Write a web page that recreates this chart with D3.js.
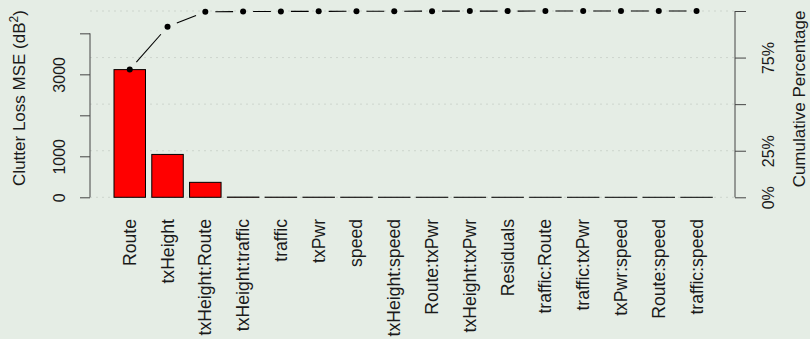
<!DOCTYPE html>
<html>
<head>
<meta charset="utf-8">
<script src="https://cdn.jsdelivr.net/npm/d3@7"></script>
<style>
  html, body { margin: 0; padding: 0; background: #e5ede5; }
  svg { display: block; }
  text { font-family: "Liberation Sans", Arial, sans-serif; fill: #1a1a1a; }
</style>
</head>
<body>
<svg id="chart" width="810" height="339"></svg>
<script>
// ---- data ----
const categories = ["Route", "txHeight", "txHeight:Route", "txHeight:traffic", "traffic", "txPwr",
  "speed", "txHeight:speed", "Route:txPwr", "txHeight:txPwr", "Residuals", "traffic:Route",
  "traffic:txPwr", "txPwr:speed", "Route:speed", "traffic:speed"];
const mseValues = [3115, 1046, 365, 5, 3, 2.5, 2, 1.5, 1.2, 1, 0.8, 0.6, 0.5, 0.4, 0.3, 0.2];
const leftTicks = [0, 1000, 2000, 3000, 4000];
const leftTickLabels = ["0", "1000", "", "3000", ""];
const pctTicks = [0, 25, 50, 75, 100];
const pctTickLabels = ["0%", "25%", "", "75%", ""];
const leftTitle = "Clutter Loss MSE (dB";
const rightTitle = "Cumulative Percentage";

// ---- derived ----
const total = d3.sum(mseValues);
let run = 0;
const cumPct = mseValues.map(v => { run += v; return run / total * 100; });

const svg = d3.select("#chart");
const plot = { left: 90, right: 735, top: 11, bottom: 197.3 };
const FS_TITLE = "17px", FS_CAT = "17.6px", FS_TICK = "16px";

const x = d3.scaleBand().domain(categories).range([114, 712.3]).paddingInner(1 / 6).paddingOuter(0);
const y = d3.scaleLinear().domain([0, total]).range([plot.bottom, plot.top]);
const yPct = d3.scaleLinear().domain([0, 100]).range([plot.bottom, plot.top]);

// grid
svg.append("g").selectAll("line").data(pctTicks).join("line")
  .attr("x1", plot.left).attr("x2", plot.right)
  .attr("y1", d => yPct(d)).attr("y2", d => yPct(d))
  .attr("stroke", "#cdd5cd").attr("stroke-width", 1)
  .attr("stroke-dasharray", "2,4");

// bars
svg.append("g").selectAll("rect").data(mseValues).join("rect")
  .attr("x", (d, i) => x(categories[i]))
  .attr("width", x.bandwidth())
  .attr("y", d => y(d))
  .attr("height", d => Math.max(0, y(0) - y(d)))
  .attr("fill", "#ff0000")
  .attr("stroke", "#000").attr("stroke-width", 1);

// cumulative line (type "b": segments with gaps around points)
const pts = cumPct.map((p, i) => [x(categories[i]) + x.bandwidth() / 2, yPct(p)]);
const gap = 10;
const segs = [];
for (let i = 0; i < pts.length - 1; i++) {
  const [x1, y1] = pts[i], [x2, y2] = pts[i + 1];
  const L = Math.hypot(x2 - x1, y2 - y1);
  if (L <= 2 * gap) continue;
  const ux = (x2 - x1) / L, uy = (y2 - y1) / L;
  segs.push([x1 + ux * gap, y1 + uy * gap, x2 - ux * gap, y2 - uy * gap]);
}
svg.append("g").selectAll("line").data(segs).join("line")
  .attr("x1", d => d[0]).attr("y1", d => d[1]).attr("x2", d => d[2]).attr("y2", d => d[3])
  .attr("stroke", "#000").attr("stroke-width", 1.1);
svg.append("g").selectAll("circle").data(pts).join("circle")
  .attr("cx", d => d[0]).attr("cy", d => d[1]).attr("r", 3).attr("fill", "#000");

// left axis
const axL = svg.append("g").attr("transform", `translate(${plot.left},0)`)
  .call(d3.axisLeft(y).tickValues(leftTicks).tickSize(10).tickSizeOuter(0)
    .tickFormat((d, i) => leftTickLabels[i]));
axL.select(".domain").remove();
axL.append("line").attr("x1", 0).attr("x2", 0)
  .attr("y1", y(leftTicks[0])).attr("y2", y(leftTicks[leftTicks.length - 1]))
  .attr("stroke", "#444");
axL.selectAll(".tick line").attr("stroke", "#444");
axL.selectAll(".tick text")
  .attr("transform", "rotate(-90)").attr("x", 0).attr("y", -25).attr("dy", 0)
  .attr("text-anchor", "middle").style("font-size", FS_TICK).style("font-family", null).attr("fill", "#1a1a1a");

// right axis
const axR = svg.append("g").attr("transform", `translate(${plot.right},0)`)
  .call(d3.axisRight(yPct).tickValues(pctTicks).tickSize(11).tickSizeOuter(0)
    .tickFormat((d, i) => pctTickLabels[i]));
axR.select(".domain").remove();
axR.append("line").attr("x1", 0).attr("x2", 0)
  .attr("y1", yPct(0)).attr("y2", yPct(100)).attr("stroke", "#444");
axR.selectAll(".tick line").attr("stroke", "#444");
axR.selectAll(".tick text")
  .attr("transform", "rotate(-90)").attr("x", 0).attr("y", 39).attr("dy", 0)
  .attr("text-anchor", "middle").style("font-size", FS_TICK).style("font-family", null).attr("fill", "#1a1a1a");

// category labels
svg.append("g").selectAll("text").data(categories).join("text")
  .attr("transform", d => `translate(${x(d) + x.bandwidth() / 2},219) rotate(-90)`)
  .attr("x", 0).attr("y", 6)
  .attr("text-anchor", "end")
  .style("font-size", FS_CAT)
  .text(d => d);

// titles
const lt = svg.append("text")
  .attr("transform", `translate(25,98) rotate(-90)`)
  .attr("text-anchor", "middle").style("font-size", FS_TITLE);
lt.append("tspan").text(leftTitle);
lt.append("tspan").attr("dy", -7).style("font-size", "12px").text("2");
lt.append("tspan").attr("dy", 7).text(")");

svg.append("text")
  .attr("transform", `translate(805,99) rotate(-90)`)
  .attr("text-anchor", "middle").style("font-size", FS_TITLE)
  .text(rightTitle);
</script>
</body>
</html>
